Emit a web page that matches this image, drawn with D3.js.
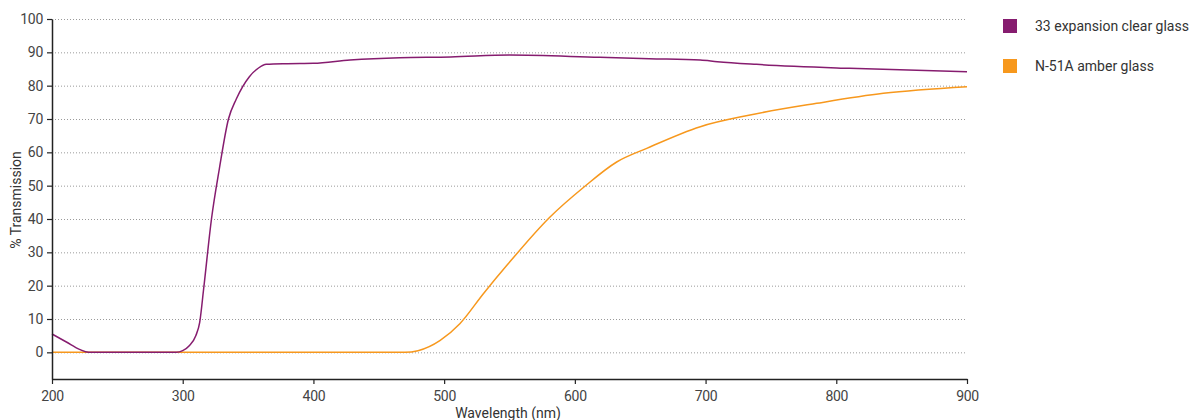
<!DOCTYPE html>
<html><head><meta charset="utf-8">
<script src="https://cdn.jsdelivr.net/npm/d3@7"></script>
<style>
body{margin:0;background:#fff;}
text{font-family:"Roboto",sans-serif;}
</style></head>
<body><svg id="c" width="1192" height="420"></svg>
<script>
const seriesNames = ["33 expansion clear glass", "N-51A amber glass"];
const seriesColors = ["#861c6f", "#f7981d"];
const xTicks = [200, 300, 400, 500, 600, 700, 800, 900];
const yTicks = [0, 10, 20, 30, 40, 50, 60, 70, 80, 90, 100];
const clearWl = [200, 211, 221, 228, 260, 295, 300, 305, 310, 313, 316, 322, 328, 335, 341, 351, 358, 364, 380, 400, 428, 466, 505, 550, 619, 657, 696, 709, 739, 810, 900];
const clearT  = [5.5, 3.1, 0.9, 0, 0, 0, 0.5, 2, 5, 9, 19, 40, 55, 70, 76, 82.7, 85.3, 86.4, 86.6, 86.7, 87.7, 88.4, 88.6, 89.2, 88.5, 88.1, 87.7, 87.2, 86.4, 85.2, 84.2];
const amberWl = [200, 300, 400, 470, 480, 497, 512, 530, 548, 581, 607, 632, 655, 696, 734, 785, 836, 900];
const amberT  = [0, 0, 0, 0, 0.5, 3.6, 8.6, 17.6, 26.1, 40.6, 49.6, 57.1, 61.2, 67.7, 71.2, 74.7, 77.7, 79.7];

const svg = d3.select("#c");
const L = 52, R = 967, T = 19, B = 379;
const x = d3.scaleLinear().domain([200, 900]).range([L, R]);
const y = d3.scaleLinear().domain([-8, 100]).range([B, T]);

// grid
svg.append("g").selectAll("line").data(yTicks).join("line")
  .attr("x1", L).attr("x2", R).attr("y1", d => y(d) + 0.5).attr("y2", d => y(d) + 0.5)
  .attr("stroke", "#9a9a9a").attr("stroke-width", 1).attr("stroke-dasharray", "1,2");

// lines
const line = d3.line().x(d => x(d[0])).y(d => y(d[1])).curve(d3.curveMonotoneX);
const amber = amberWl.map((w, i) => [w, amberT[i]]);
const clear = clearWl.map((w, i) => [w, clearT[i]]);
svg.append("path").datum(amber).attr("d", line).attr("fill", "none")
  .attr("stroke", seriesColors[1]).attr("stroke-width", 1.5);
svg.append("path").datum(clear).attr("d", line).attr("fill", "none")
  .attr("stroke", seriesColors[0]).attr("stroke-width", 1.5);

// axes
const xa = svg.append("g").attr("transform", `translate(0,${B})`)
  .call(d3.axisBottom(x).tickValues(xTicks).tickSize(5).tickSizeOuter(0).tickPadding(7));
const ya = svg.append("g").attr("transform", `translate(${L},0)`)
  .call(d3.axisLeft(y).tickValues(yTicks).tickSize(5).tickSizeOuter(0).tickPadding(4));
[xa, ya].forEach(g => {
  g.select(".domain").attr("stroke", "#222").attr("stroke-width", 1.5);
  g.selectAll(".tick line").attr("stroke", "#222").attr("stroke-width", 1.2);
  g.selectAll(".tick text").attr("fill", "#444").style("font-size", "14px")
    .style("font-family", "'Roboto',sans-serif").style("letter-spacing", "-0.3px");
});

svg.append("text").attr("x", 508).attr("y", 418).attr("text-anchor", "middle")
  .attr("fill", "#333").style("font-size", "14px").text("Wavelength (nm)");
svg.append("text").attr("transform", "translate(21,200) rotate(-90)").attr("text-anchor", "middle")
  .attr("fill", "#333").style("font-size", "14px").text("% Transmission");

// legend
const lg = svg.append("g").selectAll("g").data(seriesNames).join("g")
  .attr("transform", (d, i) => `translate(1003,${19 + i * 40})`);
lg.append("rect").attr("width", 14).attr("height", 14).attr("fill", (d, i) => seriesColors[i]);
lg.append("text").attr("x", 32).attr("y", 12).attr("fill", "#333").style("font-size", "14px").text(d => d);
</script></body></html>
